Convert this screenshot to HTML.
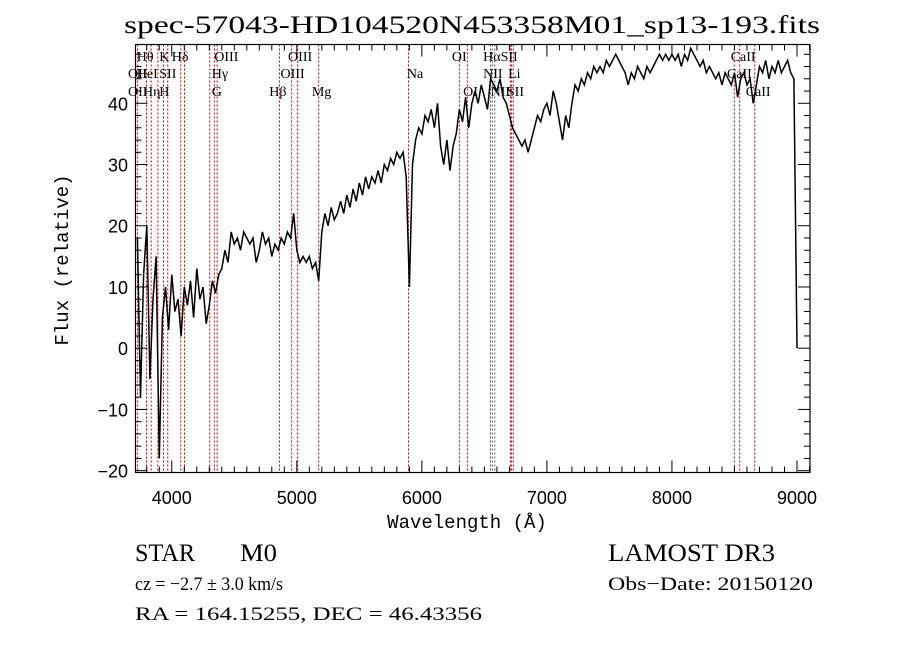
<!DOCTYPE html>
<html><head><meta charset="utf-8"><style>body{margin:0;background:#fff}svg{display:block}</style></head>
<body>
<svg id="chart" width="900" height="649" viewBox="0 0 900 649" xmlns="http://www.w3.org/2000/svg" font-family="Liberation Serif, serif">
<rect width="900" height="649" fill="#fff"/>
<text x="472" y="33" text-anchor="middle" font-size="25" textLength="696" lengthAdjust="spacingAndGlyphs">spec-57043-HD104520N453358M01_sp13-193.fits</text>
<g id="lines"></g>
<g id="labels" font-size="14"></g>
<g id="ticks"></g>
<path id="spec" fill="none" stroke="#000" stroke-width="1.5"/>
<rect x="135.5" y="44.5" width="674.5" height="428" fill="none" stroke="#000" stroke-width="1.2"/>
<text transform="translate(68,260) rotate(-90)" text-anchor="middle" font-family="Liberation Mono, monospace" font-size="19">Flux (relative)</text>
<text x="467" y="528" text-anchor="middle" font-family="Liberation Mono, monospace" font-size="19">Wavelength (Å)</text>
<text x="135" y="561" font-size="25" textLength="60" lengthAdjust="spacingAndGlyphs">STAR</text>
<text x="240" y="561" font-size="25" textLength="37" lengthAdjust="spacingAndGlyphs">M0</text>
<text x="608" y="561" font-size="25" textLength="167" lengthAdjust="spacingAndGlyphs">LAMOST DR3</text>
<text x="135" y="590" font-size="19" textLength="148" lengthAdjust="spacingAndGlyphs">cz = −2.7 ± 3.0 km/s</text>
<text x="608" y="590" font-size="19" textLength="205" lengthAdjust="spacingAndGlyphs">Obs−Date: 20150120</text>
<text x="135" y="620" font-size="19" textLength="347" lengthAdjust="spacingAndGlyphs">RA = 164.15255, DEC = 46.43356</text>
</svg>
<script>
const waveStart = 3700, waveStep = 25;
const flux = [2,18,-8,12,20,-5,8,15,-18,5,10,3,12,6,8,2,10,7,11,5,13,8,10,4,7,11,9,12,13,16,14,19,17,18,16,19,18,17,18,14,16,19,17,18,15,17,16,18,17,19,18,22,16,14,15,14,15,13,14,11,19,22,20,23,21,22,24,22,25,23,26,24,27,25,28,26,28,27,29,27,30,29,31,30,32,31,32,28,10,30,34,36,35,38,37,39,36,40,33,30,34,29,33,35,39,37,41,36,40,42,40,43,41,39,44,43,42,44,41,40,38,36,35,34,33,34,32,34,36,38,37,39,40,38,42,40,37,34,38,36,40,43,42,44,43,45,44,46,45,46,45,47,46,47,48,47,46,45,43,45,44,46,45,44,46,45,46,47,48,47,48,47,48,47,48,46,48,47,49,48,47,46,47,45,46,45,44,45,43,45,44,43,45,41,44,45,43,44,40,43,46,45,47,44,46,45,47,45,46,47,45,44,0];
const lineWaves = [3727,3798,3835,3889,3934,3968,4072,4102,4304,4341,4363,4861,4959,5007,5175,5893,6300,6364,6548,6563,6583,6708,6716,6731,8498,8542,8662];
const labelText = ["Hθ","K","Hδ","OIII","OIII","OI","HαSII","CaII","OII","HeI","SII","Hγ","OIII","Na","NII","Li","CaII","OII","Hη","H","G","Hβ","Mg","OI","NII","SII","CaII"];
const labelWave = [3720,3900,4000,4340,4930,6240,6490,8470,3650,3720,3900,4320,4870,5880,6490,6690,8440,3650,3770,3900,4320,4780,5120,6330,6550,6680,8590];
const labelRow = [0,0,0,0,0,0,0,0,1,1,1,1,1,1,1,1,1,2,2,2,2,2,2,2,2,2,2];
const xTicks = [4000,5000,6000,7000,8000,9000];
const yTicks = [-20,-10,0,10,20,30,40];

const X0=135.5, X1=810, Y0=44.5, Y1=472.5;
const xmin=3710, xmax=9104, ymin=-20.3, ymax=49.6;
const xs = w => X0 + (w-xmin)/(xmax-xmin)*(X1-X0);
const ys = f => Y1 - (f-ymin)/(ymax-ymin)*(Y1-Y0);
const NS='http://www.w3.org/2000/svg';

let d='';
flux.forEach((f,i)=>{const w=waveStart+i*waveStep; if(w<xmin) return; d+=(d?'L':'M')+xs(w).toFixed(1)+','+ys(Math.max(ymin,f)).toFixed(1);});
document.getElementById('spec').setAttribute('d',d);

const lg=document.getElementById('lines');
lineWaves.forEach(w=>{
  const l=document.createElementNS(NS,'line');
  
  
  l.setAttribute('x1',xs(w));l.setAttribute('x2',xs(w));l.setAttribute('y1',Y0);l.setAttribute('y2',Y1);
  l.setAttribute('stroke',(w>=6540&&w<=6590)?'#555':'#c00000');l.setAttribute('stroke-width','1');l.setAttribute('stroke-dasharray','2,2');
  lg.appendChild(l);
});
const lb=document.getElementById('labels');
const rowY=[61,78,96];
labelText.forEach((t,i)=>{
  const e=document.createElementNS(NS,'text');
  
  
  e.setAttribute('x',xs(labelWave[i]));e.setAttribute('y',rowY[labelRow[i]]);
  e.textContent=t; lb.appendChild(e);
});
const tg=document.getElementById('ticks');
function ln(x1,y1,x2,y2){const l=document.createElementNS(NS,'line');
  
  
  l.setAttribute('x1',x1);l.setAttribute('y1',y1);l.setAttribute('x2',x2);l.setAttribute('y2',y2);l.setAttribute('stroke','#000');tg.appendChild(l);}
for(let w=3800;w<=9100;w+=100){const x=xs(w);const L=(w%1000===0)?12:6;ln(x,Y1,x,Y1-L);ln(x,Y0,x,Y0+L);}
for(let f=-20;f<=49;f+=2){const y=ys(f);const L=(f%10===0)?12:6;ln(X0,y,X0+L,y);ln(X1,y,X1-L,y);}
xTicks.forEach(w=>{const e=document.createElementNS(NS,'text');
  
  
  e.setAttribute('x',xs(w));e.setAttribute('y',504);e.setAttribute('text-anchor','middle');e.setAttribute('font-family','Liberation Sans, sans-serif');e.setAttribute('font-size','18');e.textContent=w;tg.appendChild(e);});
yTicks.forEach(f=>{const e=document.createElementNS(NS,'text');
  
  
  e.setAttribute('x',128);e.setAttribute('y',ys(f)+7);e.setAttribute('text-anchor','end');e.setAttribute('font-family','Liberation Sans, sans-serif');e.setAttribute('font-size','18');e.textContent=(f<0?'−':'')+Math.abs(f);tg.appendChild(e);});
</script>
</body></html>
